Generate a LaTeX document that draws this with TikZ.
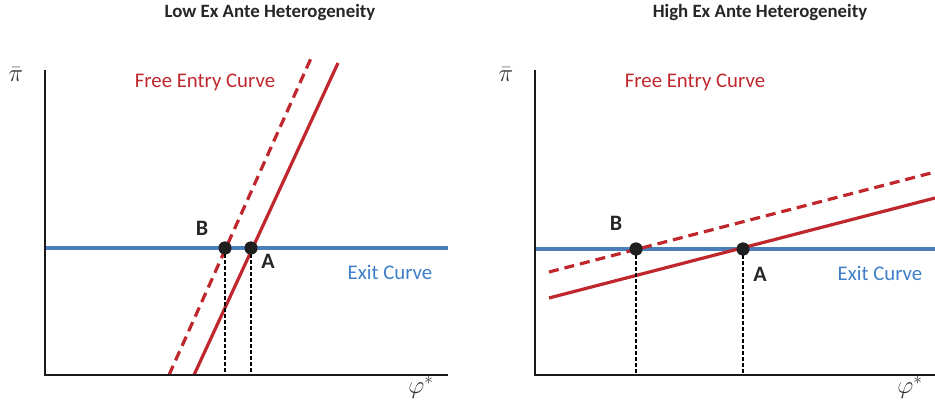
\documentclass[tikz,border=0pt]{standalone}
\usepackage{fontspec}
\setmainfont{Carlito}
\definecolor{curvered}{HTML}{C0272D}
\definecolor{exitblue}{HTML}{4A7EBB}
\definecolor{exittext}{HTML}{3F7EC8}
\begin{document}
\begin{tikzpicture}[x=1pt,y=-1pt,
  axis/.style={line width=2.2pt, black!90},
  exitline/.style={line width=3.8pt, exitblue},
  entry/.style={line width=3.2pt, curvered},
  entrydash/.style={entry, dash pattern=on 10pt off 6pt},
  guide/.style={line width=2pt, black, dash pattern=on 4pt off 2pt},
  dot/.style={circle, fill=black!88, inner sep=0pt, minimum size=13pt},
  ttl/.style={font=\fontsize{18.8}{22}\selectfont\bfseries, text=black!85},
  redtxt/.style={font=\fontsize{20.8}{24}\selectfont, text=curvered},
  bluetxt/.style={font=\fontsize{20.8}{24}\selectfont, text=exittext},
  pt/.style={font=\fontsize{22}{26}\selectfont\bfseries, text=black!85},
  axlab/.style={font=\fontsize{25}{28}\selectfont, text=black!80}]
\useasboundingbox (0,0) rectangle (935,404);
% ---------- left panel ----------
\node[ttl] (t1) at (270,12) {Low Ex Ante Heterogeneity};
\coordinate (LT) at (45,70);
\coordinate (LO) at (45,375);
\coordinate (LR) at (448,375);
\coordinate (LE1) at (45,248);
\coordinate (LE2) at (448,248);
\coordinate (LD1) at (169,375);
\coordinate (LD2) at (312,56);
\coordinate (LS1) at (194,375);
\coordinate (LS2) at (338,63);
\node[dot] (LB) at (225,248) {};
\node[dot] (LA) at (251,248) {};
\coordinate (LBf) at (225,375);
\coordinate (LAf) at (251,375);
\draw[exitline] (LE1) -- (LE2);
\draw[entrydash] (LD1) -- (LD2);
\draw[entry] (LS1) -- (LS2);
\draw[guide] (LB.center) -- (LBf);
\draw[guide] (LA.center) -- (LAf);
\draw[axis] (LT) -- (LO) -- (LR);
\node[dot] at (LB) {};
\node[dot] at (LA) {};
\node[pt] (lbB) at (202,228) {B};
\node[pt] (lbA) at (268,261) {A};
\node[redtxt] (lfe) at (205,82) {Free Entry Curve};
\node[bluetxt] (lex) at (390,272) {Exit Curve};
\node[axlab] (lpi) at (16,75) {$\bar{\pi}$};
\node[axlab] (lphi) at (421,387) {$\varphi^{*}$};
% ---------- right panel ----------
\node[ttl] (t2) at (760,12) {High Ex Ante Heterogeneity};
\coordinate (RT) at (535,70);
\coordinate (RO) at (535,375);
\coordinate (RR) at (935,375);
\coordinate (RE1) at (535,249);
\coordinate (RE2) at (935,249);
\coordinate (RD1) at (549,272);
\coordinate (RD2) at (935,172);
\coordinate (RS1) at (549,298);
\coordinate (RS2) at (935,198);
\node[dot] (RB) at (636,249) {};
\node[dot] (RA) at (743,249) {};
\coordinate (RBf) at (636,375);
\coordinate (RAf) at (743,375);
\draw[exitline] (RE1) -- (RE2);
\draw[entrydash] (RD1) -- (RD2);
\draw[entry] (RS1) -- (RS2);
\draw[guide] (RB.center) -- (RBf);
\draw[guide] (RA.center) -- (RAf);
\draw[axis] (RT) -- (RO) -- (RR);
\node[dot] at (RB) {};
\node[dot] at (RA) {};
\node[pt] (rbB) at (616,223) {B};
\node[pt] (rbA) at (760,274) {A};
\node[redtxt] (rfe) at (695,82) {Free Entry Curve};
\node[bluetxt] (rex) at (880,273) {Exit Curve};
\node[axlab] (rpi) at (506,75) {$\bar{\pi}$};
\node[axlab] (rphi) at (910,387) {$\varphi^{*}$};
\end{tikzpicture}
\end{document}
